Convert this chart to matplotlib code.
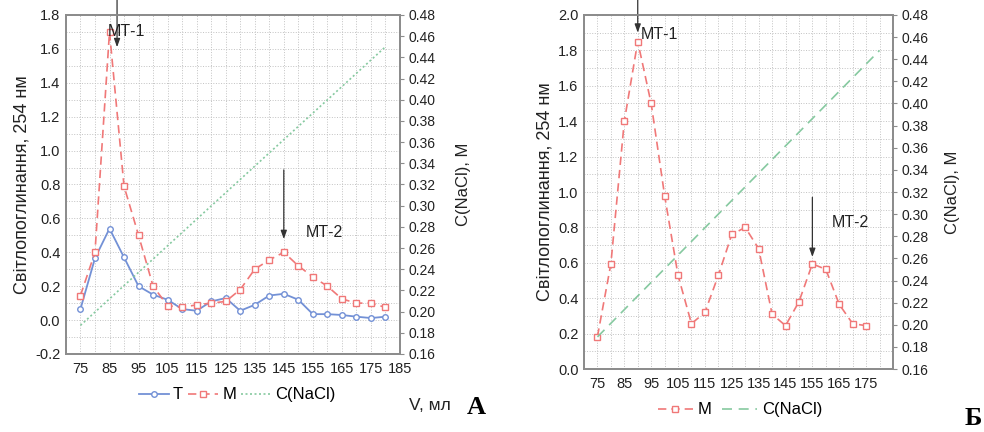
import matplotlib
matplotlib.use("Agg")
import matplotlib.pyplot as plt
from matplotlib.ticker import MultipleLocator
import numpy as np

plt.rcParams["font.family"] = ["Liberation Sans", "DejaVu Sans"]

# ── Panel A data ──────────────────────────────────────────────────────────────
V_A = [75, 80, 85, 90, 95, 100, 105, 110, 115, 120, 125, 130, 135, 140, 145,
       150, 155, 160, 165, 170, 175, 180]
T_A = [0.065, 0.365, 0.54, 0.37, 0.20, 0.15, 0.12, 0.065, 0.055, 0.11, 0.13,
       0.055, 0.09, 0.145, 0.155, 0.12, 0.035, 0.035, 0.03, 0.02, 0.012, 0.02]
M_A = [0.145, 0.40, 1.70, 0.79, 0.50, 0.20, 0.085, 0.075, 0.09, 0.10, 0.11,
       0.18, 0.30, 0.355, 0.40, 0.32, 0.255, 0.20, 0.125, 0.10, 0.10, 0.075]
V_NACL_A = [75, 180]
NACL_A = [0.187, 0.450]

# ── Panel B data ──────────────────────────────────────────────────────────────
V_B = [75, 80, 85, 90, 95, 100, 105, 110, 115, 120, 125, 130, 135, 140, 145,
       150, 155, 160, 165, 170, 175]
M_B = [0.183, 0.594, 1.40, 1.85, 1.50, 0.98, 0.529, 0.256, 0.32, 0.529, 0.76,
       0.80, 0.68, 0.31, 0.245, 0.38, 0.594, 0.563, 0.365, 0.256, 0.245]
V_NACL_B = [75, 180]
NACL_B = [0.189, 0.448]

BLUE = "#7391d6"
RED = "#f07878"
GREEN = "#86c9a0"
SPINE = "#8c8c8c"
TXT = "#222222"

YLABEL = "Світлопоглинання, 254 нм"
Y2LABEL = "C(NaCl), M"


def style_axes(ax, ax2, ylim, yticks, xticks, pad1, pad2):
    ax.set_xlim(70, 185)
    ax.set_ylim(*ylim)
    ax.set_yticks(yticks)
    ax.set_xticks(xticks)
    ax.xaxis.set_minor_locator(MultipleLocator(5))
    ax.yaxis.set_minor_locator(MultipleLocator(0.1))
    ax.grid(True, which="both", linestyle=":", color="#c2c2c2", linewidth=0.7)
    ax.set_axisbelow(True)
    ax.tick_params(which="both", length=0, labelsize=10.5, colors=TXT, pad=4)
    ax.tick_params(axis="x", labelsize=10.5, pad=6)
    ax.set_yticklabels([f"{v:.1f}" for v in yticks])
    ax2.set_ylim(0.16, 0.48)
    ax2.set_yticks(np.round(np.arange(0.16, 0.481, 0.02), 2))
    ax2.set_yticklabels([f"{v:.2f}" for v in ax2.get_yticks()])
    ax2.tick_params(axis="y", length=3, width=0.8, color=SPINE,
                    labelsize=10, colors=TXT, pad=3)
    for a in (ax, ax2):
        for s in a.spines.values():
            s.set_color(SPINE)
            s.set_linewidth(1.3)
    ax.set_ylabel(YLABEL, fontsize=13, color=TXT, labelpad=pad1)
    ax2.set_ylabel(Y2LABEL, fontsize=12, color=TXT, labelpad=pad2)


def arrow(ax, x, y_from, y_to):
    ax.annotate("", xy=(x, y_to), xytext=(x, y_from),
                arrowprops=dict(arrowstyle="-|>,head_length=0.5,head_width=0.18",
                                lw=0.9, color="#333333", shrinkA=0, shrinkB=0),
                annotation_clip=False, zorder=6)


fig = plt.figure(figsize=(9.84, 4.32), dpi=100)
fig.patch.set_facecolor("white")

# ── Plot A ────────────────────────────────────────────────────────────────────
axA = fig.add_axes([0.067, 0.1806, 0.3395, 0.7847])
axA2 = axA.twinx()
lT, = axA.plot(V_A, T_A, color=BLUE, lw=1.3, marker="o", ms=4,
               mfc="white", mec=BLUE, mew=1.0, zorder=4)
lM, = axA.plot(V_A, M_A, color=RED, lw=1.2, ls=(0, (5, 3)), marker="s", ms=4,
               mfc="white", mec=RED, mew=1.0, zorder=4)
lC, = axA2.plot(V_NACL_A, NACL_A, color=GREEN, lw=1.2, ls=(0, (1.2, 1.5)))
style_axes(axA, axA2, (-0.2, 1.8), np.round(np.arange(-0.2, 1.81, 0.2), 1),
           np.arange(75, 186, 10), 3, 15)

arrow(axA, 87.6, 1.89, 1.61)
axA.text(91, 1.70, "МТ-1", fontsize=11.5, color=TXT, ha="center", va="center",
         zorder=7)
arrow(axA, 145, 0.886, 0.478)
axA.text(159, 0.514, "МТ-2", fontsize=11.5, color=TXT, ha="center", va="center")

fig.legend([lT, lM, lC], ["T", "M", "C(NaCl)"], loc="center",
           bbox_to_anchor=(0.241, 0.086), ncol=3, frameon=False, fontsize=12,
           handlelength=1.8, handletextpad=0.25, columnspacing=0.3)
fig.text(0.437, 0.062, "V, мл", fontsize=12.5, color=TXT, ha="center", va="center")
fig.text(0.484, 0.056, "А", fontsize=19, fontweight="bold", ha="center",
         va="center", family=["Liberation Serif", "DejaVu Serif"])

# ── Plot B ────────────────────────────────────────────────────────────────────
axB = fig.add_axes([0.5935, 0.1458, 0.314, 0.8195])
axB2 = axB.twinx()
lMB, = axB.plot(V_B, M_B, color=RED, lw=1.2, ls=(0, (5, 3)), marker="s", ms=4,
                mfc="white", mec=RED, mew=1.0, zorder=4)
lCB, = axB2.plot(V_NACL_B, NACL_B, color=GREEN, lw=1.2, ls=(0, (6, 4)))
style_axes(axB, axB2, (0.0, 2.0), np.round(np.arange(0.0, 2.01, 0.2), 1),
           np.arange(75, 176, 10), 3, 12)

arrow(axB, 90, 2.085, 1.90)
axB.text(98.2, 1.89, "МТ-1", fontsize=11.5, color=TXT, ha="center",
         va="center", zorder=7)
arrow(axB, 155, 0.97, 0.633)
axB.text(169.3, 0.83, "МТ-2", fontsize=11.5, color=TXT, ha="center", va="center")

fig.legend([lMB, lCB], ["M", "C(NaCl)"], loc="center",
           bbox_to_anchor=(0.752, 0.051), ncol=2, frameon=False, fontsize=12,
           handlelength=2.1, handletextpad=0.3, columnspacing=0.6)
fig.text(0.989, 0.032, "Б", fontsize=19, fontweight="bold", ha="center",
         va="center", family=["Liberation Serif", "DejaVu Serif"])

fig.savefig("out.png", dpi=100)
